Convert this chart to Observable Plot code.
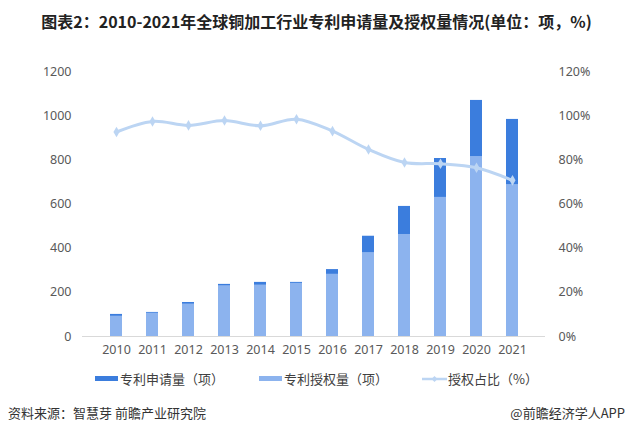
<!DOCTYPE html>
<html><head><meta charset="utf-8">
<script src="https://cdn.jsdelivr.net/npm/d3@7"></script>
<script src="https://cdn.jsdelivr.net/npm/@observablehq/plot@0.6"></script>
<style>
body{margin:0;background:#fff;width:633px;height:436px;overflow:hidden;position:relative;font-family:"Noto Sans CJK SC","Noto Sans",sans-serif;}
#title{position:absolute;left:0;top:9px;width:633px;text-align:center;font-size:16px;font-weight:bold;color:#222;letter-spacing:0px;}
#chart{position:absolute;left:0;top:40px;}
.leg{position:absolute;top:369px;font-size:13px;color:#404040;display:flex;align-items:center;}
.sw{display:inline-block;width:23px;height:5px;margin-right:2px;}
#src{position:absolute;left:8px;top:403px;font-size:13px;color:#333;}
#app{position:absolute;right:8px;top:403px;font-size:13px;color:#333;}
</style></head>
<body>
<div id="title">图表2：2010-2021年全球铜加工行业专利申请量及授权量情况(单位：项，%)</div>
<div id="chart"></div>
<div class="leg" style="left:95px"><span class="sw" style="background:#3b7ddd"></span>专利申请量（项）</div>
<div class="leg" style="left:259px"><span class="sw" style="background:#8cb3ee"></span>专利授权量（项）</div>
<div class="leg" style="left:422px"><svg width="25" height="10" style="margin-right:1px"><line x1="0" y1="5" x2="25" y2="5" stroke="#bcd5f3" stroke-width="2.5"/><path d="M12.5 2 L15.5 5 L12.5 8 L9.5 5Z" fill="#bcd5f3"/></svg>授权占比（%）</div>
<div id="src">资料来源：智慧芽 前瞻产业研究院</div>
<div id="app">@前瞻经济学人APP</div>
<script>
const years = ["2010","2011","2012","2013","2014","2015","2016","2017","2018","2019","2020","2021"];
const applications = [100,109,154,236,245,245,303,454,589,806,1069,983];
const grants = [92,106,147,230,233,241,282,380,462,630,815,688];
const grantRatio = [92.6,97.4,95.6,97.8,95.4,98.4,93.0,84.7,78.8,78.2,76.4,70.7];
const leftTicks = [0,200,400,600,800,1000,1200];
const rightTickLabels = ["0%","20%","40%","60%","80%","100%","120%"];

const data = years.map((y,i)=>({year:y, app:applications[i], grant:grants[i], ratio:grantRatio[i]*10}));

const chart = Plot.plot({
  width: 633, height: 322,
  marginTop: 31, marginBottom: 26, marginLeft: 82, marginRight: 88,
  style: {fontFamily: "'Noto Sans', 'DejaVu Sans', sans-serif", fontSize: "12.5px", color: "#595959", background: "#fff"},
  x: {domain: years, padding: 0.67, label: null},
  y: {domain: [0,1200], label: null},
  marks: [
    Plot.barY(data, {x: "year", y: "app", fill: "#3b7ddd"}),
    Plot.barY(data, {x: "year", y: "grant", fill: "#8cb3ee"}),
    Plot.ruleY([0], {stroke: "#d9d9d9"}),
    Plot.axisX({tickSize: 0, tickPadding: 9}),
    Plot.axisY(leftTicks, {anchor: "left", tickSize: 0, tickPadding: 11, label: null, tickFormat: d => String(d)}),
    Plot.axisY(leftTicks, {anchor: "right", tickSize: 0, tickPadding: 13, label: null, tickFormat: d => rightTickLabels[leftTicks.indexOf(d)]}),
    Plot.line(data, {x: "year", y: "ratio", stroke: "#bcd5f3", strokeWidth: 3, curve: "catmull-rom"}),
    Plot.dot(data, {x: "year", y: "ratio", symbol: "diamond", r: 3.2, fill: "#bcd5f3", stroke: "none"})
  ]
});
document.getElementById("chart").appendChild(chart);
</script>
</body></html>
